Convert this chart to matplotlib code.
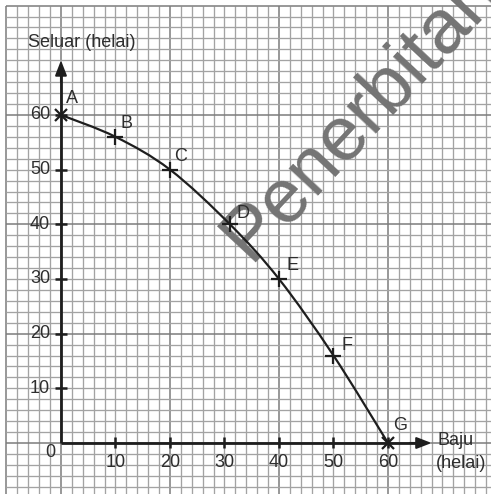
import numpy as np
import matplotlib.pyplot as plt
from matplotlib.path import Path
from matplotlib.patches import PathPatch

plt.rcParams['font.family'] = ['Liberation Sans', 'DejaVu Sans']

# data
labels = ['A', 'B', 'C', 'D', 'E', 'F', 'G']
baju = [0, 10, 20, 31, 40, 50, 60]
seluar = [60, 56, 50, 40, 30, 16, 0]
x_ticks = [10, 20, 30, 40, 50, 60]
y_ticks = [10, 20, 30, 40, 50, 60]

INK = '#1e1e1e'
TXT = '#2e2e2e'
FS = 13

fig = plt.figure(figsize=(4.91, 4.94), dpi=100)
ax = fig.add_axes([0, 0, 1, 1])
ax.set_xlim(-11.19, 78.9)
ax.set_ylim(-9.33, 81.03)
ax.axis('off')

# graph paper
gx = np.arange(-10, 79, 2)
gy = np.arange(-8, 81, 2)
for v in gx:
    major = (v % 20 == 0) or v == -10
    ax.plot([v, v], [-9.4, 80], color='#7c7c7c' if major else '#a3a3a3',
            lw=1.1 if major else 0.95, zorder=1, solid_capstyle='butt')
for v in gy:
    major = v % 20 == 0
    ax.plot([-10, 79], [v, v], color='#7c7c7c' if major else '#a3a3a3',
            lw=1.1 if major else 0.95, zorder=1, solid_capstyle='butt')

# watermark (display coords, origin bottom-left)
ax.text(250, 494 - 262, 'Penerbitan', transform=None, rotation=47,
        rotation_mode='anchor', ha='left', va='baseline',
        fontsize=55, color='#747474', zorder=2)

# axes with arrows
ax.plot([0, 0], [0, 68], color=INK, lw=2, zorder=4, solid_capstyle='butt')
ax.plot([0, 66], [0, 0], color=INK, lw=2, zorder=4, solid_capstyle='butt')
ax.annotate('', xy=(0, 70), xytext=(0, 66),
            arrowprops=dict(arrowstyle='-|>,head_length=0.9,head_width=0.35',
                            color=INK, lw=1.5, shrinkA=0, shrinkB=0), zorder=5)
ax.annotate('', xy=(68, 0), xytext=(64, 0),
            arrowprops=dict(arrowstyle='-|>,head_length=0.9,head_width=0.35',
                            color=INK, lw=1.5, shrinkA=0, shrinkB=0), zorder=5)

for t in y_ticks:
    ax.plot([-1.1, 1.1], [t, t], color=INK, lw=1.8, zorder=4, solid_capstyle='butt')
    ax.text(-2.0, t, str(t), ha='right', va='center', fontsize=FS, color=TXT, zorder=5)
for t in x_ticks:
    ax.plot([t, t], [-0.9, 1.1], color=INK, lw=1.8, zorder=4, solid_capstyle='butt')
    ax.text(t, -3.5, str(t), ha='center', va='center', fontsize=FS, color=TXT, zorder=5)
ax.text(-2.0, -1.65, '0', ha='center', va='center', fontsize=FS, color=TXT, zorder=5)

ax.text(-6.06, 73.2, 'Seluar (helai)', ha='left', va='center', fontsize=FS, color=TXT)
ax.text(69.0, 0.37, 'Baju', ha='left', va='center', fontsize=FS, color=TXT)
ax.text(68.8, -3.66, '(helai)', ha='left', va='center', fontsize=FS, color=TXT)

# smooth curve through the points (Catmull-Rom as cubic Bezier)
pts = np.column_stack([baju, seluar]).astype(float)
verts = [pts[0]]
codes = [Path.MOVETO]
for i in range(len(pts) - 1):
    p0 = pts[i - 1] if i > 0 else pts[i]
    p1, p2 = pts[i], pts[i + 1]
    p3 = pts[i + 2] if i + 2 < len(pts) else pts[i + 1]
    verts += [p1 + (p2 - p0) / 6, p2 - (p3 - p1) / 6, p2]
    codes += [Path.CURVE4] * 3
ax.add_patch(PathPatch(Path(verts, codes), fill=False, ec=INK, lw=1.6, zorder=6))

for i, (xv, yv) in enumerate(zip(baju, seluar)):
    m = 'x' if labels[i] in ('A', 'G') else '+'
    ax.plot(xv, yv, marker=m, ms=11 if m == '+' else 9, mew=1.6, color=INK, zorder=7)

offsets = [(11, 16), (11, 13), (11, 13), (13, 11), (14, 13), (14, 10), (12, 17)]
for lab, xv, yv, off in zip(labels, baju, seluar, offsets):
    ax.annotate(lab, (xv, yv), xytext=off, textcoords='offset pixels',
                ha='center', va='center', fontsize=FS, color=TXT, zorder=8)

fig.savefig('out.png', dpi=100, facecolor='white')
